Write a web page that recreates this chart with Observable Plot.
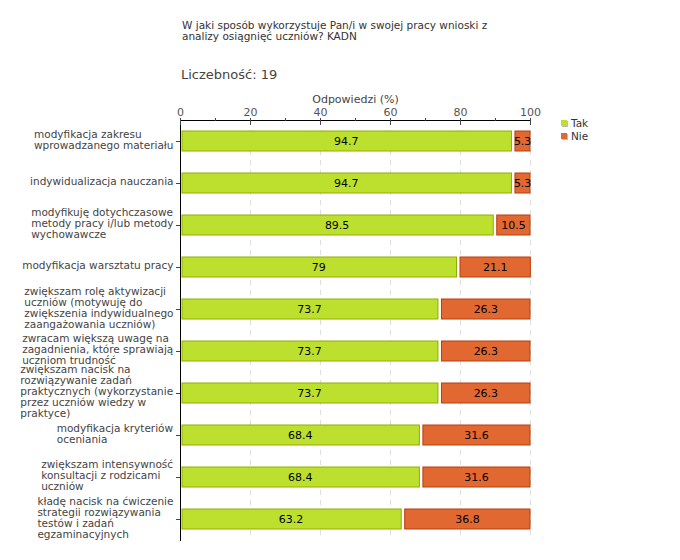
<!DOCTYPE html>
<html>
<head>
<meta charset="utf-8">
<script src="https://cdn.jsdelivr.net/npm/d3@7"></script>
<script src="https://cdn.jsdelivr.net/npm/@observablehq/plot@0.6"></script>
<style>
  body { margin: 0; background: #fff; }
  #wrap { position: relative; width: 680px; height: 560px; font-family: "DejaVu Sans", sans-serif; color: #333; }
  #wrap svg { position: absolute; left: 0; top: 0; }
  .ov { position: absolute; white-space: nowrap; }
</style>
</head>
<body>
<div id="wrap">
  <div class="ov" style="left:182px; top:20px; font-size:10.5px; line-height:11px; color:#333;">W jaki sposób wykorzystuje Pan/i w swojej pracy wnioski z<br>analizy osiągnięć uczniów? KADN</div>
  <div class="ov" style="left:181px; top:67px; font-size:13px; color:#444;">Liczebność: 19</div>
  <div class="ov" style="left:561px; top:117px; font-size:10.5px; line-height:13px; color:#333;">
    <div><span style="display:inline-block;width:6px;height:6px;background:#bde02f;box-shadow:1px 1px 0 #bbb;margin-right:4px;vertical-align:1px;"></span>Tak</div>
    <div><span style="display:inline-block;width:6px;height:6px;background:#e26831;box-shadow:1px 1px 0 #bbb;margin-right:4px;vertical-align:1px;"></span>Nie</div>
  </div>
</div>
<script>
const categories = [
  "modyfikacja zakresu\nwprowadzanego materiału",
  "indywidualizacja nauczania",
  "modyfikuję dotychczasowe\nmetody pracy i/lub metody\nwychowawcze",
  "modyfikacja warsztatu pracy",
  "zwiększam rolę aktywizacji\nuczniów (motywuję do\nzwiększenia indywidualnego\nzaangażowania uczniów)",
  "zwracam większą uwagę na\nzagadnienia, które sprawiają\nuczniom trudność",
  "zwiększam nacisk na\nrozwiązywanie zadań\npraktycznych (wykorzystanie\nprzez uczniów wiedzy w\npraktyce)",
  "modyfikacja kryteriów\noceniania",
  "zwiększam intensywność\nkonsultacji z rodzicami\nuczniów",
  "kładę nacisk na ćwiczenie\nstrategii rozwiązywania\ntestów i zadań\negzaminacyjnych"
];
const tak = [94.7, 94.7, 89.5, 79, 73.7, 73.7, 73.7, 68.4, 68.4, 63.2];
const nie = [5.3, 5.3, 10.5, 21.1, 26.3, 26.3, 26.3, 31.6, 31.6, 36.8];
const majorTicks = [0, 20, 40, 60, 80, 100];
const minorTicks = [10, 30, 50, 70, 90];
const gridTicks = [20, 40, 60, 80, 100];
const axisTitle = "Odpowiedzi (%)";

const rows = categories.map((c, i) => ({cat: c, tak: tak[i], nie: nie[i]}));

const chart = Plot.plot({
  width: 680,
  height: 560,
  marginTop: 120,
  marginBottom: 20,
  marginLeft: 180,
  marginRight: 150,
  style: {fontFamily: "DejaVu Sans, sans-serif", fontSize: "10.5px", color: "#444", background: "transparent"},
  x: {domain: [0, 100]},
  y: {domain: categories, paddingInner: 0.52, paddingOuter: 0.26},
  marks: [
    Plot.ruleX(gridTicks, {stroke: "#ddd", strokeDasharray: "5,5"}),
    Plot.barX(rows, {y: "cat", x1: 0, x2: "tak", fill: "#bde02f", stroke: "#8fae00", strokeWidth: 1, insetLeft: 2}),
    Plot.barX(rows, {y: "cat", x1: "tak", x2: d => d.tak + d.nie, fill: "#e26831", stroke: "#b93c0c", strokeWidth: 1, insetLeft: 3.5}),
    Plot.text(rows, {y: "cat", x: d => d.tak / 2, text: d => String(d.tak), fill: "#000", fontSize: 11}),
    Plot.text(rows, {y: "cat", x: d => d.tak + d.nie / 2 + 0.4, text: d => String(d.nie), fill: "#000", fontSize: 11}),
    Plot.frame({anchor: "top", stroke: "#000"}),
    Plot.frame({anchor: "left", stroke: "#000"}),
    Plot.axisX({anchor: "top", ticks: majorTicks, tickSize: 3, tickPadding: 2, label: null, fill: "#555", fontSize: 11}),
    Plot.axisX({anchor: "top", ticks: majorTicks, tickSize: -4, tickFormat: () => "", label: null}),
    Plot.axisX({anchor: "top", ticks: minorTicks, tickSize: 3, stroke: "#e00000", tickFormat: () => "", label: null}),
    Plot.axisY({ticks: categories, tickSize: 4, tickFormat: () => "", label: null}),
    Plot.text([axisTitle], {frameAnchor: "top", dy: -21, lineAnchor: "middle", fill: "#444", fontSize: 11}),
    Plot.text(categories, {y: d => d, frameAnchor: "left", textAnchor: "end", dx: -7, dy: -2, lineAnchor: "middle", lineHeight: 1.05, fill: "#444", fontSize: 10.5, className: "ylab"})
  ]
});
document.getElementById("wrap").appendChild(chart);

// left-align lines within each right-aligned label block
d3.select(chart).selectAll(".ylab text").each(function() {
  const w = this.getBBox().width;
  this.setAttribute("text-anchor", "start");
  const spans = this.querySelectorAll("tspan");
  if (spans.length) spans.forEach(s => s.setAttribute("x", -w));
  else this.setAttribute("x", -w);
});
d3.select(chart).selectAll(".ylab").attr("text-anchor", "start");
</script>
</body>
</html>
